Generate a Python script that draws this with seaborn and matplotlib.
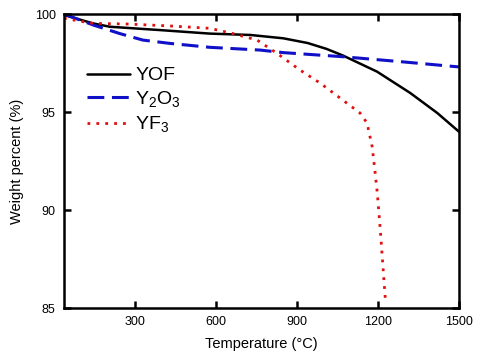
import matplotlib.pyplot as plt
import seaborn as sns

# values
yof_temp = [38, 146, 208, 393, 578, 728, 850, 940, 1010, 1071, 1197, 1320, 1420, 1500]
yof_weight = [99.95, 99.52, 99.35, 99.18, 99.0, 98.93, 98.76, 98.52, 98.22, 97.88,
              97.06, 95.97, 94.95, 94.0]

y2o3_temp = [38, 146, 245, 330, 430, 578, 764, 850, 1071, 1283, 1500]
y2o3_weight = [100.0, 99.44, 99.0, 98.67, 98.5, 98.3, 98.16, 98.03, 97.82,
               97.57, 97.3]

yf3_temp = [38, 146, 271, 430, 578, 664, 753, 827, 912, 986, 1071, 1134,
            1160, 1171, 1179, 1190, 1198, 1209, 1228]
yf3_weight = [99.78, 99.52, 99.49, 99.39, 99.27, 99.0, 98.67, 97.99, 97.14,
              96.48, 95.6, 94.95, 94.44, 93.74, 93.23, 91.9, 90.87, 89.0, 85.4]

x_ticks = [300, 600, 900, 1200, 1500]
y_ticks = [85, 90, 95, 100]

sns.set_style("ticks")
plt.rcParams['font.family'] = ['Liberation Sans', 'DejaVu Sans']
plt.rcParams['mathtext.fontset'] = 'custom'
plt.rcParams['mathtext.rm'] = 'Liberation Sans'
plt.rcParams['text.color'] = 'black'
plt.rcParams['axes.labelcolor'] = 'black'
plt.rcParams['xtick.color'] = 'black'
plt.rcParams['ytick.color'] = 'black'

fig = plt.figure(figsize=(4.81, 3.59), dpi=100)
ax = fig.add_axes([0.133, 0.142, 0.821, 0.819])

sns.lineplot(x=yof_temp, y=yof_weight, ax=ax, color='black', lw=1.8,
             label='YOF', sort=False)
sns.lineplot(x=y2o3_temp, y=y2o3_weight, ax=ax, color='#1010c8', lw=2.2,
             linestyle=(0, (5.5, 2.5)), label=r'Y$_\mathrm{2}$O$_\mathrm{3}$', sort=False)
sns.lineplot(x=yf3_temp, y=yf3_weight, ax=ax, color='#e01010', lw=2.0,
             linestyle=(0, (1, 2.2)), label=r'YF$_\mathrm{3}$', sort=False)

ax.set_xlim(38, 1500)
ax.set_ylim(85, 100)
ax.set_xticks(x_ticks)
ax.set_yticks(y_ticks)
ax.set_xlabel('Temperature (°C)', fontsize=10.5, labelpad=6)
ax.set_ylabel('Weight percent (%)', fontsize=10.5, labelpad=8)
ax.tick_params(direction='in', length=5, width=1.8, labelsize=9,
               top=True, right=True, pad=6)
for s in ax.spines.values():
    s.set_linewidth(1.8)
    s.set_color('black')
    s.set_visible(True)

ax.legend(loc='upper left', bbox_to_anchor=(0.015, 0.88), frameon=False,
          fontsize=14, handlelength=2.2, labelspacing=0.25, handletextpad=0.25)

plt.savefig('out.png', dpi=100)
plt.close()
